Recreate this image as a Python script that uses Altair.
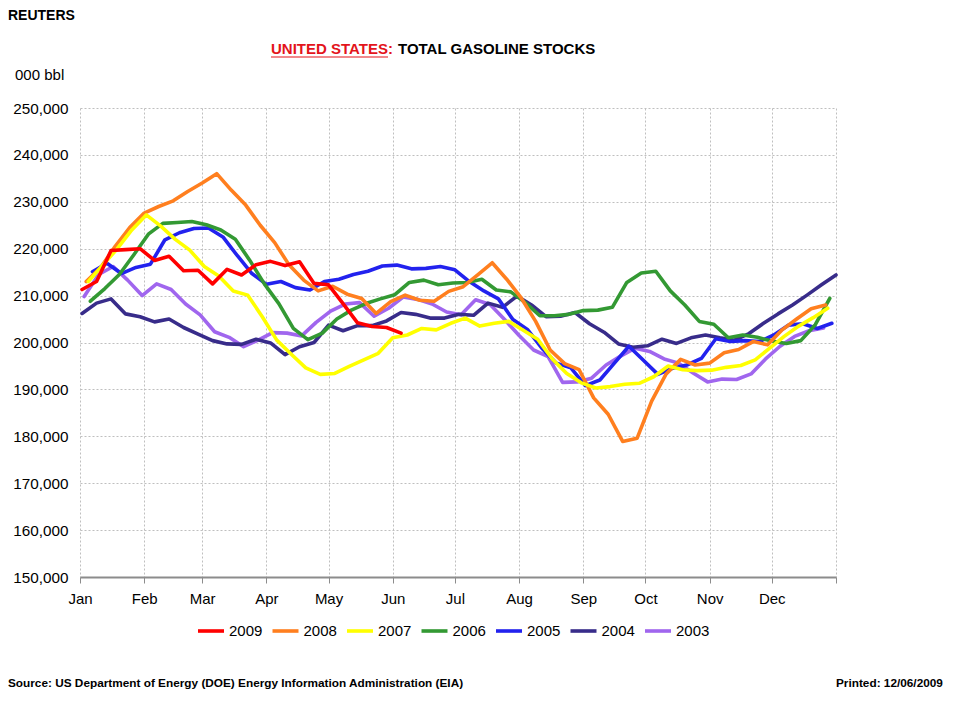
import altair as alt
import pandas as pd

# ---------------- data (thousand barrels, weekly) ----------------
years = ["2009", "2008", "2007", "2006", "2005", "2004", "2003"]
start_day = {"2009": 2, "2008": 4, "2007": 5, "2006": 6, "2005": 7, "2004": 2, "2003": 3}

s2009 = [211.3, 213, 219.6, 219.8, 220, 217.5, 218.4, 215.3, 215.4, 212.5, 215.6, 214.4,
         216.6, 217.3, 216.4, 217.2, 212.6, 212.3, 208.3, 204.2, 203.4, 203.2, 202.0]
s2008 = [213, 216, 220.5, 224.5, 227.6, 229, 230.2, 232.2, 234, 236, 232.5, 229.3, 225,
         221.3, 216.5, 213.3, 211, 212, 210.3, 209.4, 206.2, 208.7, 210.1, 209, 208.8,
         210.9, 211.9, 214.4, 217, 213.5, 209.5, 204.5, 198.4, 195.5, 194.2, 188.2, 184.7,
         178.9, 179.6, 187.5, 193.3, 196.4, 195.2, 195.6, 197.8, 198.5, 200.2, 199.5, 202.7,
         205, 207.2, 208]
s2007 = [213, 216.5, 220, 224, 227.2, 224.8, 222, 219.7, 216.2, 214.2, 211, 210.1, 205.5,
         200.5, 197.5, 194.6, 193.2, 193.4, 194.9, 196.3, 197.7, 201, 201.6, 203, 202.7,
         204.1, 205.2, 203.5, 204.1, 204.5, 202.6, 200.7, 196.5, 193.4, 191.4, 190.3, 190.6,
         191.1, 191.3, 192.7, 195, 194.2, 194, 194.1, 194.7, 195.1, 196.3, 198.8, 201.3,
         203.5, 205.3, 207.3]
s2006 = [208.8, 211.5, 214.5, 218.7, 223.1, 225.4, 225.6, 225.8, 225.1, 224, 222, 217.5,
         212.5, 208.3, 203, 200.6, 202, 205, 206.9, 208.3, 209.3, 210.2, 212.8, 213.3, 212.3,
         212.7, 212.8, 213.5, 211.2, 210.8, 208.5, 205.7, 205.7, 206, 206.8, 206.9, 207.5,
         212.8, 214.8, 215.2, 211, 208, 204.5, 203.9, 201, 201.6, 201.1, 200.3, 199.8, 200.4,
         203.8, 209.4]
s2005 = [215.1, 216.9, 214.7, 216, 216.7, 221.9, 223.4, 224.3, 224.4, 222.5, 218.5, 214.7,
         212.4, 213, 211.7, 211.2, 213, 213.5, 214.5, 215.2, 216.3, 216.5, 215.7, 215.8, 216.2,
         215.5, 213, 211, 209.3, 204.9, 202.8, 198.8, 195.6, 194.6, 190.8, 192, 195.6, 199.2,
         196.2, 193.2, 194.5, 195.2, 196.6, 200.8, 200.2, 200.4, 200.2, 201.6, 203.7, 204,
         203, 204.1]
s2004 = [206.2, 208.4, 209.3, 206.1, 205.5, 204.4, 205, 203.2, 201.8, 200.4, 199.7, 199.6,
         200.7, 199.9, 197.4, 199.1, 200, 203.7, 202.5, 203.6, 203.6, 204.6, 206.4, 206,
         205.2, 205.2, 206, 205.8, 208.4, 207.5, 209.9, 208, 205.5, 205.6, 206.4, 204, 202.2,
         199.7, 199, 199.3, 200.7, 199.8, 201, 201.6, 201, 200.5, 201.9, 204.1, 206.1, 208,
         210.1, 212.3, 214.4]
s2003 = [209.8, 214.5, 216.2, 213.3, 210, 212.5, 211.3, 208.2, 205.9, 202.3, 201.1, 199.1,
         200.5, 202.1, 202, 201.4, 204.3, 206.7, 208.2, 208.5, 205.6, 207.3, 209.7, 209.2,
         208.2, 206.5, 205.9, 209.1, 208.1, 204.9, 201.5, 198.4, 197, 191.5, 191.6, 192.4,
         195.2, 197.1, 198.8, 198.1, 196.5, 195.6, 193.5, 191.6, 192.2, 192.1, 193.3, 196.5,
         199.2, 201.3, 202.5, 203.1]

series = {"2009": s2009, "2008": s2008, "2007": s2007, "2006": s2006,
          "2005": s2005, "2004": s2004, "2003": s2003}
draw_order = ["2003", "2004", "2005", "2006", "2008", "2007", "2009"]

colors = ["#FF0000", "#FF7F1F", "#FFFF00", "#339933", "#2222EE", "#382C8A", "#A066EE"]
widths = [3.6, 3.6, 3.6, 1.6, 1.6, 1.6, 1.6]

month_ticks = [1, 32, 60, 91, 121, 152, 182, 213, 244, 274, 305, 335, 366]
month_labels = ["Jan", "Feb", "Mar", "Apr", "May", "Jun", "Jul", "Aug", "Sep", "Oct",
                "Nov", "Dec", ""]
y_ticks = list(range(150000, 250001, 10000))

txt_reuters = "REUTERS"
txt_title_red = "UNITED STATES"
txt_colon = ":"
txt_title_black = "TOTAL GASOLINE STOCKS"
txt_unit = "000 bbl"
txt_source = "Source:  US Department of Energy (DOE) Energy Information Administration (EIA)"
txt_printed = "Printed:  12/06/2009"

# ---------------- build table ----------------
rows = []
for y in draw_order:
    for k, v in enumerate(series[y]):
        rows.append({"year": y, "day": start_day[y] + 7 * k, "value": v * 1000})
df = pd.DataFrame(rows)

label_expr = "".join(
    f"datum.value == {t} ? '{l}' : " for t, l in zip(month_ticks, month_labels)
) + "''"

FONT = "Liberation Sans, Arial, Helvetica"
GRID = "#BFBFBF"

lines = alt.Chart(df).mark_line(strokeJoin="round", strokeCap="round").encode(
    x=alt.X("day:Q",
            scale=alt.Scale(domain=[1, 366], nice=False, zero=False),
            axis=alt.Axis(values=month_ticks, labelExpr=label_expr, title=None,
                          grid=True, gridDash=[2, 2], gridColor=GRID,
                          domainColor="#8C8C8C", domainWidth=2,
                          tickColor="#8C8C8C", tickSize=6,
                          labelFont=FONT, labelFontSize=15, labelColor="#000000",
                          labelPadding=8, labelFlush=False, labelOverlap=False)),
    y=alt.Y("value:Q",
            scale=alt.Scale(domain=[150000, 250000], nice=False, zero=False),
            axis=alt.Axis(values=y_ticks, format=",d", title=None,
                          grid=True, gridDash=[2, 2], gridColor=GRID,
                          domain=False, ticks=False, tickSize=0,
                          labelFont=FONT, labelFontSize=15.3, labelColor="#000000",
                          labelPadding=12)),
    color=alt.Color("year:N",
                    scale=alt.Scale(domain=years, range=colors),
                    legend=alt.Legend(title=None, orient="none", legendX=116, legendY=508,
                                      direction="horizontal", symbolType="stroke",
                                      symbolSize=676, symbolStrokeWidth=3,
                                      labelFont=FONT, labelFontSize=15,
                                      labelColor="#000000", labelOffset=3,
                                      columnPadding=1.5, padding=0)),
    strokeWidth=alt.StrokeWidth("year:N",
                                scale=alt.Scale(domain=years, range=widths),
                                legend=None),
)


def text_layer(t, x, y, size, weight="normal", color="#000000", align="left"):
    return alt.Chart(pd.DataFrame({"t": [t]})).mark_text(
        font=FONT, fontSize=size, fontWeight=weight, color=color,
        align=align, baseline="middle"
    ).encode(text="t:N", x=alt.value(x), y=alt.value(y))


texts = [
    text_layer(txt_reuters, -72, -92, 14, "bold"),
    text_layer(txt_title_red, 191, -59, 15, "bold", "#E3141B"),
    text_layer(txt_colon, 308, -59, 15, "bold", "#E3141B"),
    text_layer(txt_title_black, 318, -59, 15, "bold"),
    text_layer(txt_unit, -65, -33, 15),
    text_layer(txt_source, -72, 575, 11.8, "bold"),
    text_layer(txt_printed, 756, 575, 11.8, "bold"),
]

underline = alt.Chart(pd.DataFrame({"u": [0]})).mark_rule(
    color="#E3141B", strokeWidth=1.2
).encode(x=alt.value(191), x2=alt.value(308), y=alt.value(-51))

chart = alt.layer(lines, underline, *texts).properties(
    width=756, height=469,
    autosize=alt.AutoSizeParams(type="none"),
    padding={"left": 72, "top": 100, "right": 116, "bottom": 130},
    background="#FFFFFF",
).configure_view(strokeWidth=0)

chart.save("out.html", embed_options={"renderer": "svg", "actions": False})
